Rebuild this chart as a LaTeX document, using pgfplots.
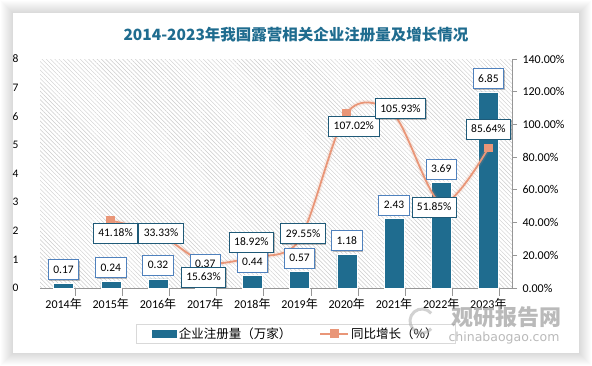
\documentclass[border=0pt]{standalone}
\usepackage{pgfplots}
\pgfplotsset{compat=1.18}
\usepackage{pgfplotstable}
\usepackage{fontspec}
\setmainfont{Carlito}
\newfontfamily\cjk{Noto Sans CJK SC}
\newfontfamily\wmfont{DejaVu Sans}
\usetikzlibrary{patterns.meta,shadows}
\definecolor{barc}{RGB}{31,108,143}
\definecolor{linec}{RGB}{233,150,120}
\definecolor{titlec}{RGB}{31,108,143}
\definecolor{barlabc}{RGB}{79,129,189}
\definecolor{pctlabc}{RGB}{31,90,120}
\definecolor{axisgray}{RGB}{150,150,150}

\pgfplotstableread{
x y
0 0.17
1 0.24
2 0.32
3 0.37
4 0.44
5 0.57
6 1.18
7 2.43
8 3.69
9 6.85
}\bartable

\pgfplotstableread{
x y dx dy
1 41.18 4.7 -12.4
2 33.33 3 0
3 15.63 -1.7 -14.6
4 18.92 -1 15
5 29.55 3.5 6
6 107.02 7 -13.5
7 105.93 6.5 6
8 51.85 -7 -4
9 85.64 0 19
}\pcttable

\tikzset{
  labbase/.style={fill=white, line width=0.8pt, inner xsep=5pt, minimum height=20pt,
    text height=8pt, text depth=1pt, font=\fontsize{11.5}{13}\selectfont, text=black,
    drop shadow={shadow xshift=1pt,shadow yshift=-1pt,opacity=0.25,fill=black}},
}
\pgfplotsset{
  base/.style={at={(40pt,77pt)}, anchor=south west, scale only axis,
    width=472pt, height=229pt, xmin=-0.5, xmax=9.5, clip=false,
    /pgf/number format/assume math mode=true},
}

\begin{document}
\begin{tikzpicture}[x=1pt,y=1pt]
\path[use as bounding box] (0,0) rectangle (592,365);
\fill[white] (0,0) rectangle (592,365);
\foreach \i in {1,...,12}{
  \fill[black, opacity=0.012] ({13-\i},{12-\i}) rectangle ({579+\i},{352+\i});
}
\fill[white] (13,12) rectangle (579,352);

\node[font=\cjk\bfseries\fontsize{15.5}{17}\selectfont, text=titlec] at (296,330) {2014-2023年我国露营相关企业注册量及增长情况};

% bars
\begin{axis}[base, ymin=0, ymax=8,
  axis x line*=bottom, axis y line*=left,
  y axis line style={draw=none},
  x axis line style={draw=axisgray, line width=0.8pt},
  axis background/.style={pattern={Lines[angle=-45,distance=3pt,line width=0.45pt]}, pattern color=black!20},
  ytick={0,1,...,8},
  y tick style={draw=none},
  yticklabel style={font=\fontsize{11.5}{13}\selectfont, xshift=-10pt},
  major tick length=8pt, tick align=outside,
  x tick style={draw=axisgray, line width=0.8pt},
  xtick={0.24,1.24,2.24,3.24,4.24,5.24,6.24,7.24,8.24,9.24},
  xticklabels={},
  extra x ticks={0,1,2,3,4,5,6,7,8,9},
  extra x tick labels={{2014{\cjk 年}},{2015{\cjk 年}},{2016{\cjk 年}},{2017{\cjk 年}},{2018{\cjk 年}},{2019{\cjk 年}},{2020{\cjk 年}},{2021{\cjk 年}},{2022{\cjk 年}},{2023{\cjk 年}}},
  extra x tick style={major tick length=0pt, tick style={draw=none}},
  xticklabel style={font=\fontsize{12}{13}\selectfont, yshift=-7pt},
  ybar, bar width=20pt,
]
\addplot[fill=barc, draw=white, line width=0.6pt]
  table[x=x,y=y]{\bartable};
\end{axis}

% growth line
\begin{axis}[base, ymin=0, ymax=140,
  axis x line=none, axis y line*=right,
  y axis line style={draw=axisgray, line width=0.8pt},
  ytick={0,20,...,140},
  yticklabel={\pgfmathprintnumber[fixed,fixed zerofill,precision=2]{\tick}\%},
  yticklabel style={font=\fontsize{12}{13}\selectfont, xshift=2pt},
  major tick length=5pt, tick align=outside,
  y tick style={draw=axisgray, line width=0.8pt},
  legend columns=2,
  legend style={at={(0.542,-0.2)}, anchor=center, draw=black!15, line width=0.8pt,
    font=\cjk\fontsize{12.5}{14}\selectfont, inner xsep=16pt, inner ysep=1.5pt,
    /tikz/every even column/.append style={column sep=26pt}},
]
\addlegendimage{legend image code/.code={\fill[barc] (0pt,-3.3pt) rectangle (24pt,3.3pt);}}
\addlegendentry{企业注册量（万家）}
\addplot[smooth, color=linec, line width=5pt, opacity=0.15, forget plot]
  table[x=x,y=y]{\pcttable};
\addplot[smooth, color=linec, line width=1.8pt, mark=square*, mark size=3.5pt,
  mark options={fill=linec, draw=linec},
  legend image code/.code={\draw[linec, line width=1.8pt] (0pt,0pt)--(28pt,0pt);
    \fill[linec] (10.5pt,-3.5pt) rectangle (17.5pt,3.5pt);}]
  table[x=x,y=y]{\pcttable};
\addlegendentry{同比增长（\%）}
\end{axis}

% bar labels
\begin{axis}[base, ymin=0, ymax=8, hide axis]
\addplot[draw=none, nodes near coords, point meta=explicit symbolic,
  every node near coord/.append style={labbase, draw=barlabc, anchor=south, yshift=3pt}]
  table[x=x,y=y,meta=y]{\bartable};
\end{axis}

% growth labels
\begin{axis}[base, ymin=0, ymax=140, hide axis]
\addplot[draw=none, nodes near coords, point meta=explicit symbolic,
  visualization depends on={\thisrow{dx}\as\dx},
  visualization depends on={\thisrow{dy}\as\dy},
  nodes near coords={\pgfplotspointmeta\%},
  every node near coord/.append style={labbase, draw=pctlabc, anchor=center, xshift=\dx pt, yshift=\dy pt}]
  table[x=x,y=y,meta=y]{\pcttable};
\end{axis}

\node[font=\cjk\bfseries\fontsize{22}{22}\selectfont, text=black!45, opacity=0.6] at (506,47.5) {观研报告网};
\node[font=\wmfont\fontsize{12.5}{13}\selectfont, text=black!45, opacity=0.6] at (504,26.5) {chinabaogao.com};
\draw[black!35, opacity=0.5, line width=3pt] (422,44) ++(40:12) arc (40:320:12);
\end{tikzpicture}
\end{document}
